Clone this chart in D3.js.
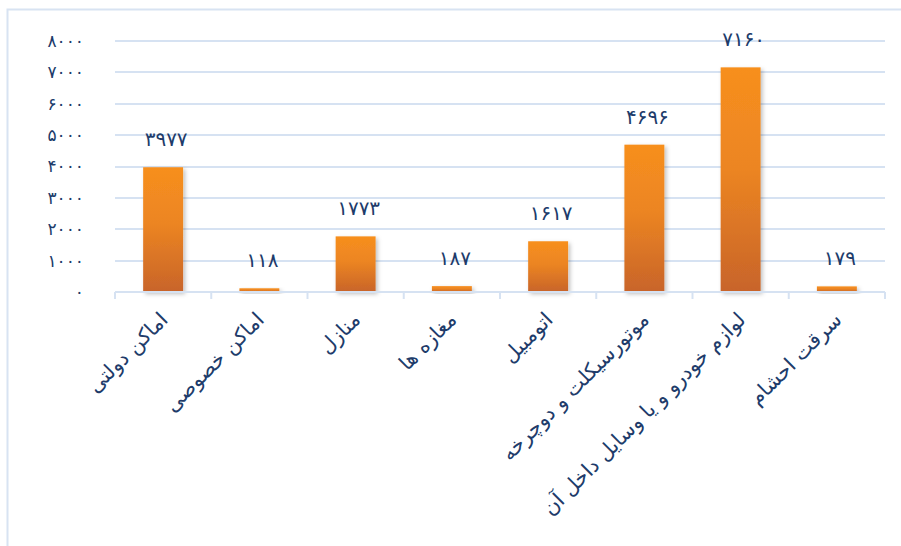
<!DOCTYPE html>
<html>
<head>
<meta charset="utf-8">
<script src="https://cdn.jsdelivr.net/npm/d3@7"></script>
<style>
  body { margin: 0; background: #fff; }
  svg { display: block; font-family: "DejaVu Sans", sans-serif; }
</style>
</head>
<body>
<div id="chart"></div>
<script>
// Categories and counts
const categories = [
    "اماکن دولتی",
    "اماکن خصوصی",
    "منازل",
    "مغازه ها",
    "اتومبیل",
    "موتورسیکلت و دوچرخه",
    "لوازم خودرو و یا وسایل داخل آن",
    "سرقت احشام"
];
const values = [3977, 118, 1773, 187, 1617, 4696, 7160, 179];
const yTicks = [0, 1000, 2000, 3000, 4000, 5000, 6000, 7000, 8000];

const width = 901, height = 546;
const margin = { left: 115, right: 16, top: 41, bottom: 254 };
const textColor = "#203B6A";
const gridColor = "#D6E2F2";

// Persian digits for every number shown
const faDigits = "۰۱۲۳۴۵۶۷۸۹";
const toFa = n => String(n).replace(/\d/g, d => faDigits[+d]);

const svg = d3.select("#chart")
    .append("svg")
    .attr("width", width)
    .attr("height", height);

const defs = svg.append("defs");

// Orange gradient for bars, lighter on top
const grad = defs.append("linearGradient")
    .attr("id", "barGrad")
    .attr("x1", 0).attr("y1", 0)
    .attr("x2", 0).attr("y2", 1);
grad.append("stop").attr("offset", "0%").attr("stop-color", "#F78F1E");
grad.append("stop").attr("offset", "45%").attr("stop-color", "#EC8522");
grad.append("stop").attr("offset", "100%").attr("stop-color", "#C8642A");

// Soft shadow under the bars
const shadow = defs.append("filter")
    .attr("id", "shadow")
    .attr("x", "-20%").attr("y", "-20%")
    .attr("width", "150%").attr("height", "150%");
shadow.append("feDropShadow")
    .attr("dx", 2).attr("dy", 2)
    .attr("stdDeviation", 2)
    .attr("flood-color", "#000")
    .attr("flood-opacity", 0.25);

// Outer frame of the chart area (only top and left edges visible)
svg.append("rect")
    .attr("x", 7.5).attr("y", 9.5)
    .attr("width", width + 20).attr("height", height + 20)
    .attr("fill", "none")
    .attr("stroke", "#D8E3F2")
    .attr("stroke-width", 2);

const x = d3.scaleBand()
    .domain(categories)
    .range([margin.left, width - margin.right])
    .paddingInner(0.585)
    .paddingOuter(0.2925);

const y = d3.scaleLinear()
    .domain([0, 8000])
    .range([height - margin.bottom, margin.top]);

// Horizontal gridlines
svg.append("g")
    .selectAll("line")
    .data(yTicks.filter(t => t > 0))
    .join("line")
    .attr("x1", margin.left)
    .attr("x2", width - margin.right)
    .attr("y1", d => Math.round(y(d)))
    .attr("y2", d => Math.round(y(d)))
    .attr("stroke", gridColor)
    .attr("stroke-width", 2);

// Y axis labels
svg.append("g")
    .selectAll("text")
    .data(yTicks)
    .join("text")
    .attr("x", 84)
    .attr("y", d => y(d))
    .attr("dy", "0.35em")
    .attr("text-anchor", "end")
    .attr("fill", textColor)
    .attr("font-size", 17)
    .attr("letter-spacing", 7)
    .text(d => toFa(d));

// Bars
svg.append("g")
    .selectAll("rect")
    .data(values)
    .join("rect")
    .attr("x", (d, i) => x(categories[i]))
    .attr("y", d => y(d))
    .attr("width", x.bandwidth())
    .attr("height", d => y(0) - y(d))
    .attr("fill", "url(#barGrad)")
    .attr("filter", "url(#shadow)");

// Baseline with category separator ticks
const step = x.step();
const base = Math.round(y(0));
svg.append("line")
    .attr("x1", margin.left).attr("x2", width - margin.right)
    .attr("y1", base).attr("y2", base)
    .attr("stroke", gridColor)
    .attr("stroke-width", 2);
svg.append("g")
    .selectAll("line")
    .data(d3.range(categories.length + 1))
    .join("line")
    .attr("x1", i => margin.left + i * step)
    .attr("x2", i => margin.left + i * step)
    .attr("y1", base)
    .attr("y2", base + 7)
    .attr("stroke", gridColor)
    .attr("stroke-width", 2);

// Value labels above bars
svg.append("g")
    .selectAll("text")
    .data(values)
    .join("text")
    .attr("x", (d, i) => x(categories[i]) + x.bandwidth() / 2 + 3)
    .attr("y", d => y(d) - 21)
    .attr("text-anchor", "middle")
    .attr("fill", textColor)
    .attr("font-size", 20)
    .attr("letter-spacing", 6)
    .text(d => toFa(d));

// Rotated category labels
svg.append("g")
    .selectAll("text")
    .data(categories)
    .join("text")
    .attr("transform", d => `translate(${x(d) + x.bandwidth() / 2 + 6},${base + 29}) rotate(-45)`)
    .attr("text-anchor", "end")
    .attr("fill", textColor)
    .attr("font-size", 20.5)
    .text(d => d);
</script>
</body>
</html>
